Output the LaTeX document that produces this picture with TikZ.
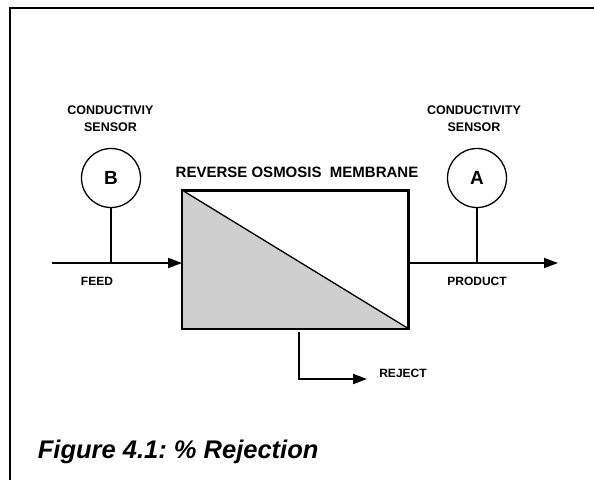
\documentclass[tikz,border=0pt]{standalone}
\usepackage{fontspec}
\setmainfont{Liberation Sans}
\usetikzlibrary{arrows.meta}
\frenchspacing
\begin{document}
\begin{tikzpicture}[x=1pt,y=-1pt,line width=1.8pt]
     \tikzstyle{sensornode}=[draw,circle,line width=1.3pt,minimum size=59pt,inner sep=0pt,font=\fontsize{19}{21}\selectfont\bfseries]
     \tikzstyle{labelnode}=[inner sep=0pt,align=center,font=\fontsize{12}{17}\selectfont\bfseries]
     \tikzstyle{flow}=[-{Triangle[length=14pt,width=10pt]}]
     \useasboundingbox (0,0) rectangle (594,480);
     \draw (594,8) -- (10,8) -- (10,480);
     \node[draw,rectangle,minimum width=225pt,minimum height=137pt,inner sep=0pt] (membrane) at (295.5,259.5) {};
     \fill[black!19] (membrane.north west) -- (membrane.south east) -- (membrane.south west) -- cycle;
     \draw (membrane.north west) rectangle (membrane.south east);
     \draw[line width=1.3pt] (membrane.north west) -- (membrane.south east);
     \node[inner sep=0pt,font=\fontsize{15}{17}\selectfont\bfseries] (title) at (297,172) {REVERSE OSMOSIS\ \ MEMBRANE};
     \node[sensornode] (sensB) at (111,178) {B};
     \node[sensornode] (sensA) at (477,178) {A};
     \node[labelnode,font=\fontsize{12.5}{17}\selectfont\bfseries] (condB) at (110.5,119) {CONDUCTIVIY\\SENSOR};
     \node[labelnode,font=\fontsize{12.5}{17}\selectfont\bfseries] (condA) at (474,119) {CONDUCTIVITY\\SENSOR};
     \coordinate (feedin) at (52,263);
     \coordinate (prodout) at (558,263);
     \coordinate (rejtop) at (299,332);
     \coordinate (rejout) at (367,379);
     \draw[flow] (feedin) -- (feedin -| membrane.west);
     \draw[flow] (feedin -| membrane.east) -- (prodout);
     \draw (sensB) -- (sensB |- feedin);
     \draw (sensA) -- (sensA |- feedin);
     \draw[flow] (rejtop) -- (rejtop |- rejout) -- (rejout);
     \node[labelnode] (feed) at (97,281) {FEED};
     \node[labelnode] (product) at (477,281) {PRODUCT};
     \node[labelnode] (reject) at (403,373) {REJECT};
     \node[anchor=base west,inner sep=0pt,font=\fontsize{25.5}{28}\selectfont\bfseries\itshape] (caption) at (37,458) {Figure 4.1: \% Rejection};
    \end{tikzpicture}
\end{document}
